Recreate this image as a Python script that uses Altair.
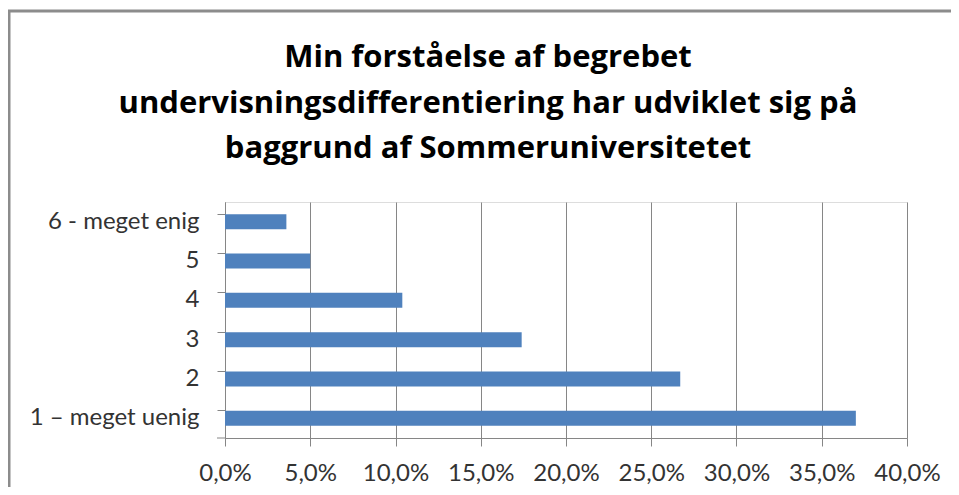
import altair as alt
import pandas as pd

categories = ["6 - meget enig", "5", "4", "3", "2", "1 – meget uenig"]
values = [0.036, 0.050, 0.104, 0.174, 0.267, 0.370]
title_lines = [
    "Min forståelse af begrebet",
    "undervisningsdifferentiering har udviklet sig på",
    "baggrund af Sommeruniversitetet",
]
x_ticks = [0.0, 0.05, 0.10, 0.15, 0.20, 0.25, 0.30, 0.35, 0.40]

W, H = 682, 236
PAD = {"left": 217, "top": 194, "right": 44, "bottom": 49}
GRAY = "#868686"
FONT = "Lato"

df = pd.DataFrame({"category": categories, "value": values})
one = pd.DataFrame({"k": [0]})

bars = alt.Chart(df).mark_bar(color="#4F81BD").encode(
    y=alt.Y(
        "category:N",
        sort=categories,
        scale=alt.Scale(paddingInner=0.62, paddingOuter=0.31),
        axis=alt.Axis(
            title=None,
            bandPosition=0,
            tickSize=8,
            tickColor=GRAY,
            domainColor=GRAY,
            labelFont=FONT,
            labelFontSize=24,
            labelColor="#333333",
            labelPadding=18,
        ),
    ),
    x=alt.X(
        "value:Q",
        scale=alt.Scale(domain=[0, 0.4], nice=False),
        axis=alt.Axis(
            title=None,
            values=x_ticks,
            labelExpr="replace(format(datum.value, '.1%'), '.', ',')",
            grid=True,
            gridColor=GRAY,
            gridWidth=1,
            tickSize=8,
            tickColor=GRAY,
            domainColor=GRAY,
            labelFont=FONT,
            labelFontSize=24,
            labelColor="#333333",
            labelPadding=15,
            labelFlush=False,
        ),
    ),
)

bottom_tick = alt.Chart(one).mark_rule(color=GRAY, strokeWidth=1).encode(
    x=alt.value(-8), x2=alt.value(0), y=alt.value(H)
)

frame_top = alt.Chart(one).mark_rule(color="#8C8C8C", strokeWidth=3).encode(
    x=alt.value(-PAD["left"]), x2=alt.value(W + PAD["right"]), y=alt.value(-191)
)
frame_left = alt.Chart(one).mark_rule(color="#8C8C8C", strokeWidth=3).encode(
    x=alt.value(-PAD["left"] + 1), y=alt.value(-191), y2=alt.value(H + PAD["bottom"])
)

title = alt.Chart(one).mark_text(
    font="Open Sans",
    fontSize=31,
    fontWeight="bold",
    color="black",
    align="center",
    baseline="alphabetic",
    lineBreak="\n",
    lineHeight=45.5,
).encode(
    text=alt.value("\n".join(title_lines)),
    x=alt.value(263),
    y=alt.value(-135),
)

chart = (
    alt.layer(bars, bottom_tick, frame_top, frame_left, title)
    .properties(
        width=W,
        height=H,
        padding=PAD,
        autosize=alt.AutoSizeParams(type="none"),
    )
    .configure_view(stroke=None)
    .configure(background="white")
)

chart.save("out.html", embed_options={"renderer": "svg", "actions": False})
